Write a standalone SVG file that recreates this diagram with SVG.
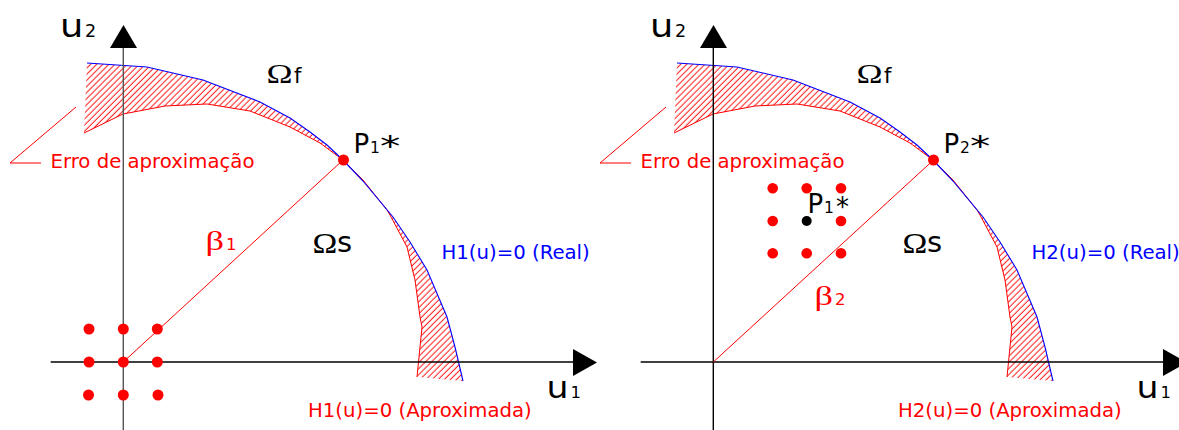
<svg xmlns="http://www.w3.org/2000/svg" xmlns:xlink="http://www.w3.org/1999/xlink" width="1179" height="430" viewBox="0 0 1179 430">
<style>
.sans{font-family:"DejaVu Sans","Liberation Sans",sans-serif}
.serif{font-family:"Liberation Serif","DejaVu Serif",serif}
.red{fill:#ff0000}
.blue{fill:#0000ff}
.blk{fill:#000}
.lbl{font-size:19.7px}
.redline{fill:none;stroke:#ff0000;stroke-width:1}
.blueline{fill:none;stroke:#0000ff;stroke-width:1.1}
</style>
<defs>
<pattern id="hatch" patternUnits="userSpaceOnUse" width="4.3" height="10" patternTransform="rotate(45)">
<line x1="2" y1="-1" x2="2" y2="11" stroke="#ff0000" stroke-width="0.9"/>
</pattern>
<g id="curves">
<polygon fill="url(#hatch)" stroke="none" points="87,63 147,67 203,80 260,102 290,118 310,132 327,145 343,160 363,181 393,217 410,242 427,270 447,317 455,347 463,381 417,377 422,327 420,317 415,280 407,247 390,215 387,210 363,180 343,160 320,143 290,127 250,111 207,104 165,106 123,114 84,133"/>
<polyline class="redline" points="84,133 123,114 165,106 207,104 250,111 290,127 320,143 343,160 363,180 387,210 390,215 407,247 415,280 420,317 422,327 417,377"/>
<polyline class="blueline" points="87,63 147,67 203,80 260,102 290,118 310,132 327,145 343,160 363,181 393,217 410,242 427,270 447,317 455,347 463,381"/>
<polyline class="redline" points="76,107 10,163 41,163"/>
<text class="sans red lbl" x="50.5" y="168">Erro de aproximação</text>
</g>
</defs>

<!-- Left panel -->
<g id="panel1">
<use xlink:href="#curves" href="#curves"/>
<g id="axes1">
<line x1="123.3" y1="46" x2="123.3" y2="430" stroke="#555" stroke-width="1.4"/>
<polygon points="110,48 137,48 123.5,25" fill="#000"/>
<line x1="50.7" y1="362" x2="575" y2="362" stroke="#000" stroke-width="1.4"/>
<polygon points="573,349 573,376 597,362.5" fill="#000"/>
<text class="sans blk" transform="translate(60,37) scale(1.15,1)" font-size="32">u</text>
<text class="sans blk" x="85" y="37" font-size="17.5">2</text>
<text class="sans blk" transform="translate(546.5,398) scale(1.12,1)" font-size="31">u</text>
<text class="sans blk" x="570.5" y="398" font-size="16.5">1</text>
</g>
<line id="beta1-line" x1="123.3" y1="362" x2="343" y2="160" class="redline"/>
<g id="grid1" class="red">
<circle cx="89" cy="329" r="5.5"/><circle cx="123.3" cy="329" r="5.5"/><circle cx="157.3" cy="329" r="5.5"/>
<circle cx="89" cy="362" r="5.5"/><circle cx="123.3" cy="362" r="5.5"/><circle cx="157.3" cy="362" r="5.5"/>
<circle cx="88.5" cy="395" r="5.5"/><circle cx="123.3" cy="395" r="5.5"/><circle cx="158" cy="395" r="5.5"/>
</g>
<circle id="P1" cx="343.5" cy="160" r="5.5" class="red"/>
<g id="labels1">
<text class="serif blk" transform="translate(266.5,83) scale(1.3,1)" font-size="27">Ω</text>
<text class="sans blk" x="294" y="83" font-size="21">f</text>
<text class="serif blk" transform="translate(312.5,253) scale(1.15,1)" font-size="29">Ω</text>
<text class="sans blk" x="337" y="252" font-size="29">s</text>
<text class="serif red" transform="translate(205.5,250) scale(1.3,1)" font-size="28">β</text>
<text class="sans red" x="226" y="250" font-size="16.5">1</text>
<text class="sans blk" x="353.5" y="153" font-size="26">P</text>
<text class="sans blk" x="370" y="153" font-size="15.5">1</text>
<text class="sans blk" transform="translate(380,156) scale(1.45,1)" font-size="28">*</text>
<text class="sans blue lbl" x="441.5" y="259">H1(u)=0 (Real)</text>
<text class="sans red lbl" x="308" y="416.5">H1(u)=0 (Aproximada)</text>
</g>
</g>

<!-- Right panel -->
<g id="panel2">
<use xlink:href="#curves" href="#curves" transform="translate(590,0)"/>
<g id="axes2">
<line x1="713.3" y1="46" x2="713.3" y2="430" stroke="#000" stroke-width="1.4"/>
<polygon points="700,48 727,48 713.5,25" fill="#000"/>
<line x1="640.7" y1="362" x2="1165" y2="362" stroke="#000" stroke-width="1.4"/>
<polygon points="1163,349 1163,376 1187,362.5" fill="#000"/>
<text class="sans blk" transform="translate(650,37) scale(1.15,1)" font-size="32">u</text>
<text class="sans blk" x="675" y="37" font-size="17.5">2</text>
<text class="sans blk" transform="translate(1136.5,398) scale(1.12,1)" font-size="31">u</text>
<text class="sans blk" x="1160.5" y="398" font-size="16.5">1</text>
</g>
<line id="beta2-line" x1="713.3" y1="362" x2="933.5" y2="160" class="redline"/>
<g id="grid2" class="red">
<circle cx="772.7" cy="188.3" r="5.3"/><circle cx="806.7" cy="188.3" r="5.3"/><circle cx="841" cy="188.3" r="5.3"/>
<circle cx="772.7" cy="221" r="5.3"/><circle cx="841" cy="221" r="5.3"/>
<circle cx="772.7" cy="253.3" r="5.3"/><circle cx="806.7" cy="253.3" r="5.3"/><circle cx="841" cy="253.3" r="5.3"/>
</g>
<circle id="P1b" cx="806.7" cy="221" r="5" fill="#000"/>
<circle id="P2" cx="933.5" cy="160" r="5.5" class="red"/>
<g id="labels2">
<text class="serif blk" transform="translate(856.5,83) scale(1.3,1)" font-size="27">Ω</text>
<text class="sans blk" x="884" y="83" font-size="21">f</text>
<text class="serif blk" transform="translate(902.5,253) scale(1.15,1)" font-size="29">Ω</text>
<text class="sans blk" x="927" y="252" font-size="29">s</text>
<text class="serif red" transform="translate(814.5,305) scale(1.3,1)" font-size="28">β</text>
<text class="sans red" x="835" y="305" font-size="16.5">2</text>
<text class="sans blk" x="943.5" y="153" font-size="26">P</text>
<text class="sans blk" x="960" y="153" font-size="15.5">2</text>
<text class="sans blk" transform="translate(970,156) scale(1.45,1)" font-size="28">*</text>
<text class="sans blk" x="807.5" y="213" font-size="26">P</text>
<text class="sans blk" x="824" y="213" font-size="15.5">1</text>
<text class="sans blk" x="836" y="216" font-size="26">*</text>
<text class="sans blue lbl" x="1031.5" y="259">H2(u)=0 (Real)</text>
<text class="sans red lbl" x="898" y="416.5">H2(u)=0 (Aproximada)</text>
</g>
</g>
</svg>
